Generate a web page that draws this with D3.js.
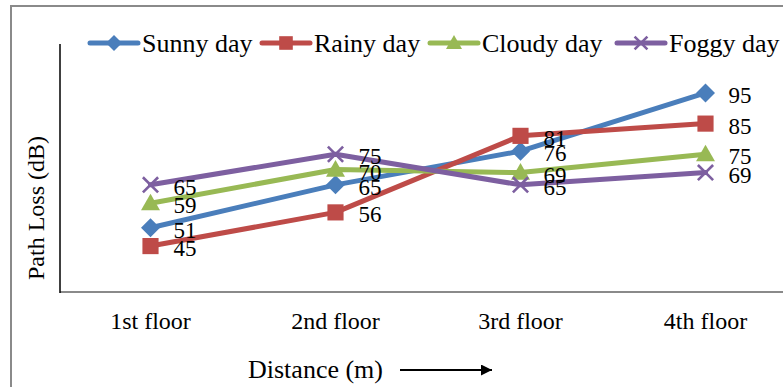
<!DOCTYPE html>
<html>
<head>
<meta charset="utf-8">
<script src="https://cdn.jsdelivr.net/npm/d3@7/dist/d3.min.js"></script>
<style>
  html, body { margin: 0; padding: 0; background: #fff; }
  svg { display: block; }
  text { font-family: "Liberation Serif", "Times New Roman", serif; fill: #000; }
</style>
</head>
<body>
<svg id="chart" width="783" height="387"></svg>
<script>
// Categories along the x axis
const floors = ["1st floor", "2nd floor", "3rd floor", "4th floor"];

// Path loss (dB) per weather condition
const sunnyDay  = [51, 65, 76, 95];
const rainyDay  = [45, 56, 81, 85];
const cloudyDay = [59, 70, 69, 75];
const foggyDay  = [65, 75, 65, 69];

const seriesNames = ["Sunny day", "Rainy day", "Cloudy day", "Foggy day"];
const seriesColors = ["#4A7EBB", "#BE4B48", "#98B954", "#7D5FA0"];
const seriesMarkers = ["diamond", "square", "triangle", "cross"];

const yAxisTitle = "Path Loss (dB)";
const xAxisTitle = "Distance (m)";

const series = seriesNames.map((name, i) => ({
  name,
  values: [sunnyDay, rainyDay, cloudyDay, foggyDay][i],
  color: seriesColors[i],
  marker: seriesMarkers[i]
}));

const svg = d3.select("#chart");

// Outer chart frame
svg.append("path")
  .attr("d", "M11,400 L11,6 L800,6")
  .attr("fill", "none")
  .attr("stroke", "#8a8a8a")
  .attr("stroke-width", 2);

const plot = { left: 58, right: 798, top: 44, bottom: 292 };

const x = d3.scaleBand().domain(floors).range([plot.left, plot.right]).padding(0);
const xc = d => x(d) + x.bandwidth() / 2;
const y = d3.scaleLinear().domain([30, 111]).range([plot.bottom, plot.top]);

// Axes
svg.append("line")
  .attr("x1", plot.left + 2).attr("x2", 800)
  .attr("y1", plot.bottom).attr("y2", plot.bottom)
  .attr("stroke", "#8a8a8a").attr("stroke-width", 2);
svg.append("line")
  .attr("x1", plot.left + 2).attr("x2", plot.left + 2)
  .attr("y1", plot.top).attr("y2", plot.bottom + 1)
  .attr("stroke", "#000").attr("stroke-width", 1.5);

// Category labels
const xAxis = d3.axisBottom(x).tickSize(0).tickPadding(0);
const xg = svg.append("g").attr("transform", `translate(0,${plot.bottom})`).call(xAxis);
xg.select(".domain").remove();
xg.selectAll("text")
  .attr("y", 37).attr("dy", null)
  .style("font-family", '"Liberation Serif", serif')
  .style("font-size", "24px")
  .attr("fill", "#000");

// Axis titles
svg.append("text")
  .attr("transform", "translate(44,208) rotate(-90)")
  .attr("text-anchor", "middle")
  .style("font-size", "24px")
  .text(yAxisTitle);

svg.append("text")
  .attr("x", 248).attr("y", 378)
  .style("font-size", "26px")
  .text(xAxisTitle);

svg.append("defs").append("marker")
  .attr("id", "arrowhead")
  .attr("viewBox", "0 0 10 10")
  .attr("refX", 10).attr("refY", 5)
  .attr("markerWidth", 5).attr("markerHeight", 5)
  .attr("markerUnits", "strokeWidth")
  .attr("orient", "auto")
  .append("path").attr("d", "M0,0 L10,5 L0,10 Z").attr("fill", "#000");

svg.append("line")
  .attr("x1", 400).attr("x2", 492)
  .attr("y1", 370).attr("y2", 370)
  .attr("stroke", "#000").attr("stroke-width", 2.2)
  .attr("marker-end", "url(#arrowhead)");

// Marker shapes
function drawMarker(g, type, cx, cy, color, s) {
  if (type === "diamond") {
    g.append("path")
      .attr("d", `M${cx},${cy - s} L${cx + s},${cy} L${cx},${cy + s} L${cx - s},${cy} Z`)
      .attr("fill", color);
  } else if (type === "square") {
    g.append("rect")
      .attr("x", cx - s * 0.85).attr("y", cy - s * 0.85)
      .attr("width", s * 1.7).attr("height", s * 1.7)
      .attr("fill", color);
  } else if (type === "triangle") {
    g.append("path")
      .attr("d", `M${cx},${cy - s} L${cx + s},${cy + s * 0.75} L${cx - s},${cy + s * 0.75} Z`)
      .attr("fill", color);
  } else if (type === "cross") {
    const k = s * 0.8;
    g.append("path")
      .attr("d", `M${cx - k},${cy - k} L${cx + k},${cy + k} M${cx - k},${cy + k} L${cx + k},${cy - k}`)
      .attr("stroke", color).attr("stroke-width", 2.6).attr("fill", "none");
  }
}

// Lines, markers and value labels
const line = d3.line().x((d, i) => xc(floors[i])).y(d => y(d));

series.forEach(s => {
  const g = svg.append("g");
  g.append("path")
    .attr("d", line(s.values))
    .attr("fill", "none")
    .attr("stroke", s.color)
    .attr("stroke-width", 5)
    .attr("stroke-linejoin", "round")
    .attr("stroke-linecap", "round");
  s.values.forEach((v, i) => drawMarker(g, s.marker, xc(floors[i]), y(v), s.color, 9.5));
});

series.forEach(s => {
  svg.append("g").selectAll("text")
    .data(s.values)
    .join("text")
    .attr("x", (d, i) => xc(floors[i]) + 23)
    .attr("y", d => y(d) + 10)
    .style("font-size", "23px")
    .text(d => d);
});

// Legend
const legendX = [90, 262, 430, 617];
series.forEach((s, i) => {
  const g = svg.append("g");
  const x0 = legendX[i], ly = 43;
  g.append("line")
    .attr("x1", x0).attr("x2", x0 + 48)
    .attr("y1", ly).attr("y2", ly)
    .attr("stroke", s.color).attr("stroke-width", 5)
    .attr("stroke-linecap", "round");
  drawMarker(g, s.marker, x0 + 24, ly, s.color, 8);
  g.append("text")
    .attr("x", x0 + 52).attr("y", ly + 9)
    .style("font-size", "26px")
    .text(s.name);
});
</script>
</body>
</html>
